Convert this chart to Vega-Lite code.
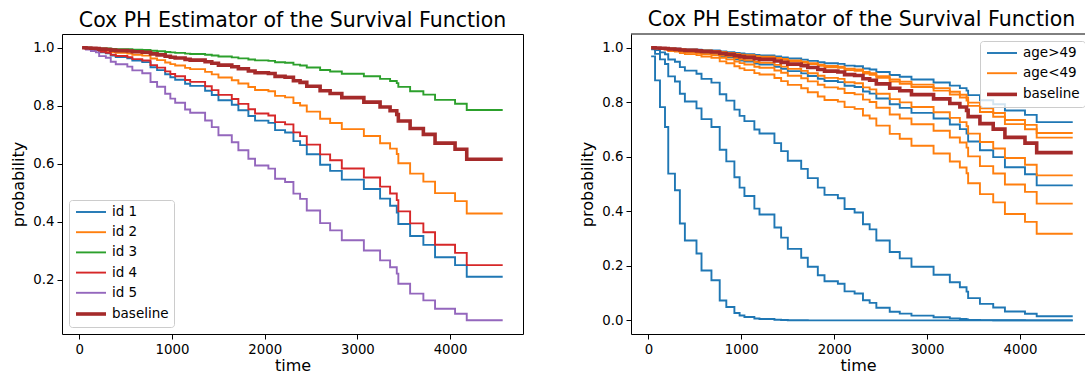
{
"$schema": "https://vega.github.io/schema/vega-lite/v6.json",
"background": "white",
"padding": {"left": 10, "top": 10, "right": 0, "bottom": 0},
"config": {
  "font": "DejaVu Sans",
  "view": {"stroke": "#000", "strokeWidth": 1},
  "axis": {"grid": false, "domain": false, "tickColor": "#000", "tickSize": 5, "tickWidth": 1, "labelColor": "#000", "labelFontSize": 13.3, "labelFont": "DejaVu Sans", "labelPadding": 3, "titleFont": "DejaVu Sans", "titleFontSize": 16, "titleFontWeight": "normal", "titleColor": "#000"},
  "axisX": {"titlePadding": 2},
  "axisY": {"titlePadding": 6},
  "title": {"fontSize": 20.5, "fontWeight": "normal", "color": "#000", "font": "DejaVu Sans", "anchor": "middle", "frame": "group", "baseline": "alphabetic", "offset": 3},
  "legend": {"symbolType": "M-2.5,0H2.5", "symbolSize": 144, "symbolOffset": 9, "symbolStrokeWidth": 1.9, "labelFontSize": 13.5, "labelFont": "DejaVu Sans", "labelColor": "#000", "strokeColor": "#cccccc", "fillColor": "rgba(255,255,255,0.8)", "cornerRadius": 3, "padding": 5, "rowPadding": 6.2, "labelOffset": 13, "offset": 7, "title": null}
},
"datasets": {
"left": [
{"t":30,"c":"id 1","p":0.9991},{"t":72,"c":"id 1","p":0.9966},{"t":125,"c":"id 1","p":0.9934},{"t":179,"c":"id 1","p":0.9908},{"t":214,"c":"id 1","p":0.9835},{"t":286,"c":"id 1","p":0.9804},{"t":339,"c":"id 1","p":0.9727},{"t":393,"c":"id 1","p":0.9677},{"t":518,"c":"id 1","p":0.9631},{"t":572,"c":"id 1","p":0.9556},{"t":679,"c":"id 1","p":0.95},{"t":768,"c":"id 1","p":0.9324},{"t":839,"c":"id 1","p":0.9226},{"t":926,"c":"id 1","p":0.9082},{"t":982,"c":"id 1","p":0.898},{"t":1034,"c":"id 1","p":0.8894},{"t":1141,"c":"id 1","p":0.8753},{"t":1196,"c":"id 1","p":0.8683},{"t":1357,"c":"id 1","p":0.8514},{"t":1429,"c":"id 1","p":0.8368},{"t":1501,"c":"id 1","p":0.8187},{"t":1645,"c":"id 1","p":0.8029},{"t":1716,"c":"id 1","p":0.7843},{"t":1824,"c":"id 1","p":0.7644},{"t":1896,"c":"id 1","p":0.7484},{"t":2040,"c":"id 1","p":0.7407},{"t":2112,"c":"id 1","p":0.7157},{"t":2220,"c":"id 1","p":0.7075},{"t":2310,"c":"id 1","p":0.6777},{"t":2382,"c":"id 1","p":0.6639},{"t":2454,"c":"id 1","p":0.6325},{"t":2598,"c":"id 1","p":0.5964},{"t":2706,"c":"id 1","p":0.5752},{"t":2832,"c":"id 1","p":0.5452},{"t":3070,"c":"id 1","p":0.5127},{"t":3245,"c":"id 1","p":0.4796},{"t":3353,"c":"id 1","p":0.4552},{"t":3425,"c":"id 1","p":0.4318},{"t":3442,"c":"id 1","p":0.3923},{"t":3569,"c":"id 1","p":0.3506},{"t":3712,"c":"id 1","p":0.3201},{"t":3838,"c":"id 1","p":0.2777},{"t":4054,"c":"id 1","p":0.2505},{"t":4180,"c":"id 1","p":0.2101},{"t":4568,"c":"id 1","p":0.2101},
{"t":30,"c":"id 2","p":0.9995},{"t":72,"c":"id 2","p":0.9981},{"t":125,"c":"id 2","p":0.9964},{"t":179,"c":"id 2","p":0.995},{"t":214,"c":"id 2","p":0.991},{"t":286,"c":"id 2","p":0.9893},{"t":339,"c":"id 2","p":0.9851},{"t":393,"c":"id 2","p":0.9823},{"t":518,"c":"id 2","p":0.9798},{"t":572,"c":"id 2","p":0.9756},{"t":679,"c":"id 2","p":0.9725},{"t":768,"c":"id 2","p":0.9627},{"t":839,"c":"id 2","p":0.9571},{"t":926,"c":"id 2","p":0.949},{"t":982,"c":"id 2","p":0.9432},{"t":1034,"c":"id 2","p":0.9383},{"t":1141,"c":"id 2","p":0.9301},{"t":1196,"c":"id 2","p":0.9261},{"t":1357,"c":"id 2","p":0.9163},{"t":1429,"c":"id 2","p":0.9077},{"t":1501,"c":"id 2","p":0.897},{"t":1645,"c":"id 2","p":0.8875},{"t":1716,"c":"id 2","p":0.8763},{"t":1824,"c":"id 2","p":0.8641},{"t":1896,"c":"id 2","p":0.8542},{"t":2040,"c":"id 2","p":0.8495},{"t":2112,"c":"id 2","p":0.8337},{"t":2220,"c":"id 2","p":0.8285},{"t":2310,"c":"id 2","p":0.8094},{"t":2382,"c":"id 2","p":0.8004},{"t":2454,"c":"id 2","p":0.7796},{"t":2598,"c":"id 2","p":0.7551},{"t":2706,"c":"id 2","p":0.7403},{"t":2832,"c":"id 2","p":0.7191},{"t":3070,"c":"id 2","p":0.6955},{"t":3245,"c":"id 2","p":0.6707},{"t":3353,"c":"id 2","p":0.6519},{"t":3425,"c":"id 2","p":0.6335},{"t":3442,"c":"id 2","p":0.6013},{"t":3569,"c":"id 2","p":0.5657},{"t":3712,"c":"id 2","p":0.5383},{"t":3838,"c":"id 2","p":0.4984},{"t":4054,"c":"id 2","p":0.4711},{"t":4180,"c":"id 2","p":0.4282},{"t":4568,"c":"id 2","p":0.4282},
{"t":30,"c":"id 3","p":0.9999},{"t":72,"c":"id 3","p":0.9995},{"t":125,"c":"id 3","p":0.999},{"t":179,"c":"id 3","p":0.9986},{"t":214,"c":"id 3","p":0.9974},{"t":286,"c":"id 3","p":0.9969},{"t":339,"c":"id 3","p":0.9957},{"t":393,"c":"id 3","p":0.9949},{"t":518,"c":"id 3","p":0.9942},{"t":572,"c":"id 3","p":0.993},{"t":679,"c":"id 3","p":0.9921},{"t":768,"c":"id 3","p":0.9892},{"t":839,"c":"id 3","p":0.9876},{"t":926,"c":"id 3","p":0.9852},{"t":982,"c":"id 3","p":0.9835},{"t":1034,"c":"id 3","p":0.982},{"t":1141,"c":"id 3","p":0.9795},{"t":1196,"c":"id 3","p":0.9783},{"t":1357,"c":"id 3","p":0.9754},{"t":1429,"c":"id 3","p":0.9727},{"t":1501,"c":"id 3","p":0.9694},{"t":1645,"c":"id 3","p":0.9665},{"t":1716,"c":"id 3","p":0.963},{"t":1824,"c":"id 3","p":0.9592},{"t":1896,"c":"id 3","p":0.956},{"t":2040,"c":"id 3","p":0.9545},{"t":2112,"c":"id 3","p":0.9494},{"t":2220,"c":"id 3","p":0.9477},{"t":2310,"c":"id 3","p":0.9414},{"t":2382,"c":"id 3","p":0.9384},{"t":2454,"c":"id 3","p":0.9314},{"t":2598,"c":"id 3","p":0.923},{"t":2706,"c":"id 3","p":0.9178},{"t":2832,"c":"id 3","p":0.9102},{"t":3070,"c":"id 3","p":0.9016},{"t":3245,"c":"id 3","p":0.8923},{"t":3353,"c":"id 3","p":0.885},{"t":3425,"c":"id 3","p":0.8778},{"t":3442,"c":"id 3","p":0.8649},{"t":3569,"c":"id 3","p":0.8499},{"t":3712,"c":"id 3","p":0.838},{"t":3838,"c":"id 3","p":0.8198},{"t":4054,"c":"id 3","p":0.8067},{"t":4180,"c":"id 3","p":0.7851},{"t":4568,"c":"id 3","p":0.7851},
{"t":30,"c":"id 4","p":0.9992},{"t":72,"c":"id 4","p":0.997},{"t":125,"c":"id 4","p":0.9942},{"t":179,"c":"id 4","p":0.9919},{"t":214,"c":"id 4","p":0.9854},{"t":286,"c":"id 4","p":0.9826},{"t":339,"c":"id 4","p":0.9757},{"t":393,"c":"id 4","p":0.9713},{"t":518,"c":"id 4","p":0.9671},{"t":572,"c":"id 4","p":0.9605},{"t":679,"c":"id 4","p":0.9555},{"t":768,"c":"id 4","p":0.9398},{"t":839,"c":"id 4","p":0.931},{"t":926,"c":"id 4","p":0.9181},{"t":982,"c":"id 4","p":0.9089},{"t":1034,"c":"id 4","p":0.9012},{"t":1141,"c":"id 4","p":0.8884},{"t":1196,"c":"id 4","p":0.8821},{"t":1357,"c":"id 4","p":0.8669},{"t":1429,"c":"id 4","p":0.8537},{"t":1501,"c":"id 4","p":0.8373},{"t":1645,"c":"id 4","p":0.8229},{"t":1716,"c":"id 4","p":0.806},{"t":1824,"c":"id 4","p":0.7878},{"t":1896,"c":"id 4","p":0.7731},{"t":2040,"c":"id 4","p":0.7661},{"t":2112,"c":"id 4","p":0.7431},{"t":2220,"c":"id 4","p":0.7355},{"t":2310,"c":"id 4","p":0.708},{"t":2382,"c":"id 4","p":0.6951},{"t":2454,"c":"id 4","p":0.6658},{"t":2598,"c":"id 4","p":0.632},{"t":2706,"c":"id 4","p":0.612},{"t":2832,"c":"id 4","p":0.5835},{"t":3070,"c":"id 4","p":0.5526},{"t":3245,"c":"id 4","p":0.5208},{"t":3353,"c":"id 4","p":0.4972},{"t":3425,"c":"id 4","p":0.4745},{"t":3442,"c":"id 4","p":0.4357},{"t":3569,"c":"id 4","p":0.3944},{"t":3712,"c":"id 4","p":0.3637},{"t":3838,"c":"id 4","p":0.3206},{"t":4054,"c":"id 4","p":0.2925},{"t":4180,"c":"id 4","p":0.2503},{"t":4568,"c":"id 4","p":0.2503},
{"t":30,"c":"id 5","p":0.9984},{"t":72,"c":"id 5","p":0.9938},{"t":125,"c":"id 5","p":0.9882},{"t":179,"c":"id 5","p":0.9836},{"t":214,"c":"id 5","p":0.9706},{"t":286,"c":"id 5","p":0.965},{"t":339,"c":"id 5","p":0.9514},{"t":393,"c":"id 5","p":0.9427},{"t":518,"c":"id 5","p":0.9346},{"t":572,"c":"id 5","p":0.9216},{"t":679,"c":"id 5","p":0.9119},{"t":768,"c":"id 5","p":0.8818},{"t":839,"c":"id 5","p":0.8652},{"t":926,"c":"id 5","p":0.8411},{"t":982,"c":"id 5","p":0.8242},{"t":1034,"c":"id 5","p":0.8101},{"t":1141,"c":"id 5","p":0.787},{"t":1196,"c":"id 5","p":0.7758},{"t":1357,"c":"id 5","p":0.7489},{"t":1429,"c":"id 5","p":0.726},{"t":1501,"c":"id 5","p":0.698},{"t":1645,"c":"id 5","p":0.6739},{"t":1716,"c":"id 5","p":0.6461},{"t":1824,"c":"id 5","p":0.617},{"t":1896,"c":"id 5","p":0.594},{"t":2040,"c":"id 5","p":0.5831},{"t":2112,"c":"id 5","p":0.5482},{"t":2220,"c":"id 5","p":0.5369},{"t":2310,"c":"id 5","p":0.4969},{"t":2382,"c":"id 5","p":0.4789},{"t":2454,"c":"id 5","p":0.4389},{"t":2598,"c":"id 5","p":0.395},{"t":2706,"c":"id 5","p":0.37},{"t":2832,"c":"id 5","p":0.3361},{"t":3070,"c":"id 5","p":0.301},{"t":3245,"c":"id 5","p":0.2669},{"t":3353,"c":"id 5","p":0.243},{"t":3425,"c":"id 5","p":0.2211},{"t":3442,"c":"id 5","p":0.186},{"t":3569,"c":"id 5","p":0.152},{"t":3712,"c":"id 5","p":0.129},{"t":3838,"c":"id 5","p":0.1},{"t":4054,"c":"id 5","p":0.083},{"t":4180,"c":"id 5","p":0.0606},{"t":4568,"c":"id 5","p":0.0606},
{"t":30,"c":"baseline","p":0.9997},{"t":72,"c":"baseline","p":0.9989},{"t":125,"c":"baseline","p":0.998},{"t":179,"c":"baseline","p":0.9971},{"t":214,"c":"baseline","p":0.9948},{"t":286,"c":"baseline","p":0.9938},{"t":339,"c":"baseline","p":0.9914},{"t":393,"c":"baseline","p":0.9898},{"t":518,"c":"baseline","p":0.9883},{"t":572,"c":"baseline","p":0.9859},{"t":679,"c":"baseline","p":0.9841},{"t":768,"c":"baseline","p":0.9784},{"t":839,"c":"baseline","p":0.9752},{"t":926,"c":"baseline","p":0.9704},{"t":982,"c":"baseline","p":0.9671},{"t":1034,"c":"baseline","p":0.9642},{"t":1141,"c":"baseline","p":0.9594},{"t":1196,"c":"baseline","p":0.957},{"t":1357,"c":"baseline","p":0.9511},{"t":1429,"c":"baseline","p":0.946},{"t":1501,"c":"baseline","p":0.9396},{"t":1645,"c":"baseline","p":0.9339},{"t":1716,"c":"baseline","p":0.9271},{"t":1824,"c":"baseline","p":0.9197},{"t":1896,"c":"baseline","p":0.9137},{"t":2040,"c":"baseline","p":0.9107},{"t":2112,"c":"baseline","p":0.901},{"t":2220,"c":"baseline","p":0.8978},{"t":2310,"c":"baseline","p":0.8859},{"t":2382,"c":"baseline","p":0.8802},{"t":2454,"c":"baseline","p":0.867},{"t":2598,"c":"baseline","p":0.8513},{"t":2706,"c":"baseline","p":0.8417},{"t":2832,"c":"baseline","p":0.8278},{"t":3070,"c":"baseline","p":0.8121},{"t":3245,"c":"baseline","p":0.7954},{"t":3353,"c":"baseline","p":0.7825},{"t":3425,"c":"baseline","p":0.7698},{"t":3442,"c":"baseline","p":0.7471},{"t":3569,"c":"baseline","p":0.7214},{"t":3712,"c":"baseline","p":0.7012},{"t":3838,"c":"baseline","p":0.671},{"t":4054,"c":"baseline","p":0.6497},{"t":4180,"c":"baseline","p":0.6151},{"t":4568,"c":"baseline","p":0.6151}
],
"right": [
{"t":30,"c":"b1","g":"age>49","p":0.968},{"t":72,"c":"b1","g":"age>49","p":0.88},{"t":125,"c":"b1","g":"age>49","p":0.782},{"t":179,"c":"b1","g":"age>49","p":0.709},{"t":214,"c":"b1","g":"age>49","p":0.538},{"t":286,"c":"b1","g":"age>49","p":0.477},{"t":339,"c":"b1","g":"age>49","p":0.355},{"t":393,"c":"b1","g":"age>49","p":0.293},{"t":518,"c":"b1","g":"age>49","p":0.245},{"t":572,"c":"b1","g":"age>49","p":0.183},{"t":679,"c":"b1","g":"age>49","p":0.147},{"t":768,"c":"b1","g":"age>49","p":0.073},{"t":839,"c":"b1","g":"age>49","p":0.049},{"t":926,"c":"b1","g":"age>49","p":0.027},{"t":982,"c":"b1","g":"age>49","p":0.018},{"t":1034,"c":"b1","g":"age>49","p":0.0125},{"t":1141,"c":"b1","g":"age>49","p":0.0069},{"t":1196,"c":"b1","g":"age>49","p":0.0051},{"t":1357,"c":"b1","g":"age>49","p":0.0025},{"t":1429,"c":"b1","g":"age>49","p":0.0013},{"t":1501,"c":"b1","g":"age>49","p":0.0006},{"t":1645,"c":"b1","g":"age>49","p":0.0003},{"t":1716,"c":"b1","g":"age>49","p":0.0001},{"t":1824,"c":"b1","g":"age>49","p":0},{"t":1896,"c":"b1","g":"age>49","p":0},{"t":2040,"c":"b1","g":"age>49","p":0},{"t":2112,"c":"b1","g":"age>49","p":0},{"t":2220,"c":"b1","g":"age>49","p":0},{"t":2310,"c":"b1","g":"age>49","p":0},{"t":2382,"c":"b1","g":"age>49","p":0},{"t":2454,"c":"b1","g":"age>49","p":0},{"t":2598,"c":"b1","g":"age>49","p":0},{"t":2706,"c":"b1","g":"age>49","p":0},{"t":2832,"c":"b1","g":"age>49","p":0},{"t":3070,"c":"b1","g":"age>49","p":0},{"t":3245,"c":"b1","g":"age>49","p":0},{"t":3353,"c":"b1","g":"age>49","p":0},{"t":3425,"c":"b1","g":"age>49","p":0},{"t":3442,"c":"b1","g":"age>49","p":0},{"t":3569,"c":"b1","g":"age>49","p":0},{"t":3712,"c":"b1","g":"age>49","p":0},{"t":3838,"c":"b1","g":"age>49","p":0},{"t":4054,"c":"b1","g":"age>49","p":0},{"t":4180,"c":"b1","g":"age>49","p":0},{"t":4568,"c":"b1","g":"age>49","p":0},
{"t":30,"c":"b2","g":"age>49","p":0.9942},{"t":72,"c":"b2","g":"age>49","p":0.9773},{"t":125,"c":"b2","g":"age>49","p":0.9569},{"t":179,"c":"b2","g":"age>49","p":0.9402},{"t":214,"c":"b2","g":"age>49","p":0.8948},{"t":286,"c":"b2","g":"age>49","p":0.8758},{"t":339,"c":"b2","g":"age>49","p":0.8307},{"t":393,"c":"b2","g":"age>49","p":0.8026},{"t":518,"c":"b2","g":"age>49","p":0.7773},{"t":572,"c":"b2","g":"age>49","p":0.7377},{"t":679,"c":"b2","g":"age>49","p":0.7092},{"t":768,"c":"b2","g":"age>49","p":0.6258},{"t":839,"c":"b2","g":"age>49","p":0.5829},{"t":926,"c":"b2","g":"age>49","p":0.5247},{"t":982,"c":"b2","g":"age>49","p":0.4866},{"t":1034,"c":"b2","g":"age>49","p":0.4562},{"t":1141,"c":"b2","g":"age>49","p":0.4097},{"t":1196,"c":"b2","g":"age>49","p":0.3883},{"t":1357,"c":"b2","g":"age>49","p":0.3405},{"t":1429,"c":"b2","g":"age>49","p":0.3032},{"t":1501,"c":"b2","g":"age>49","p":0.262},{"t":1645,"c":"b2","g":"age>49","p":0.2298},{"t":1716,"c":"b2","g":"age>49","p":0.1964},{"t":1824,"c":"b2","g":"age>49","p":0.1653},{"t":1896,"c":"b2","g":"age>49","p":0.1435},{"t":2040,"c":"b2","g":"age>49","p":0.134},{"t":2112,"c":"b2","g":"age>49","p":0.1064},{"t":2220,"c":"b2","g":"age>49","p":0.0985},{"t":2310,"c":"b2","g":"age>49","p":0.0738},{"t":2382,"c":"b2","g":"age>49","p":0.0643},{"t":2454,"c":"b2","g":"age>49","p":0.0465},{"t":2598,"c":"b2","g":"age>49","p":0.0314},{"t":2706,"c":"b2","g":"age>49","p":0.0246},{"t":2832,"c":"b2","g":"age>49","p":0.0172},{"t":3070,"c":"b2","g":"age>49","p":0.0114},{"t":3245,"c":"b2","g":"age>49","p":0.0073},{"t":3353,"c":"b2","g":"age>49","p":0.0051},{"t":3425,"c":"b2","g":"age>49","p":0.0036},{"t":3442,"c":"b2","g":"age>49","p":0.0019},{"t":3569,"c":"b2","g":"age>49","p":0.0009},{"t":3712,"c":"b2","g":"age>49","p":0.0005},{"t":3838,"c":"b2","g":"age>49","p":0.0002},{"t":4054,"c":"b2","g":"age>49","p":0.0001},{"t":4180,"c":"b2","g":"age>49","p":0},{"t":4568,"c":"b2","g":"age>49","p":0},
{"t":30,"c":"b3","g":"age>49","p":0.9977},{"t":72,"c":"b3","g":"age>49","p":0.9908},{"t":125,"c":"b3","g":"age>49","p":0.9825},{"t":179,"c":"b3","g":"age>49","p":0.9756},{"t":214,"c":"b3","g":"age>49","p":0.9565},{"t":286,"c":"b3","g":"age>49","p":0.9483},{"t":339,"c":"b3","g":"age>49","p":0.9285},{"t":393,"c":"b3","g":"age>49","p":0.9158},{"t":518,"c":"b3","g":"age>49","p":0.9041},{"t":572,"c":"b3","g":"age>49","p":0.8854},{"t":679,"c":"b3","g":"age>49","p":0.8716},{"t":768,"c":"b3","g":"age>49","p":0.829},{"t":839,"c":"b3","g":"age>49","p":0.8058},{"t":926,"c":"b3","g":"age>49","p":0.7726},{"t":982,"c":"b3","g":"age>49","p":0.7497},{"t":1034,"c":"b3","g":"age>49","p":0.7306},{"t":1141,"c":"b3","g":"age>49","p":0.6998},{"t":1196,"c":"b3","g":"age>49","p":0.6849},{"t":1357,"c":"b3","g":"age>49","p":0.65},{"t":1429,"c":"b3","g":"age>49","p":0.6205},{"t":1501,"c":"b3","g":"age>49","p":0.5852},{"t":1645,"c":"b3","g":"age>49","p":0.5553},{"t":1716,"c":"b3","g":"age>49","p":0.5215},{"t":1824,"c":"b3","g":"age>49","p":0.4868},{"t":1896,"c":"b3","g":"age>49","p":0.46},{"t":2040,"c":"b3","g":"age>49","p":0.4475},{"t":2112,"c":"b3","g":"age>49","p":0.4081},{"t":2220,"c":"b3","g":"age>49","p":0.3957},{"t":2310,"c":"b3","g":"age>49","p":0.3526},{"t":2382,"c":"b3","g":"age>49","p":0.3338},{"t":2454,"c":"b3","g":"age>49","p":0.2931},{"t":2598,"c":"b3","g":"age>49","p":0.2504},{"t":2706,"c":"b3","g":"age>49","p":0.2272},{"t":2832,"c":"b3","g":"age>49","p":0.1968},{"t":3070,"c":"b3","g":"age>49","p":0.167},{"t":3245,"c":"b3","g":"age>49","p":0.1397},{"t":3353,"c":"b3","g":"age>49","p":0.1214},{"t":3425,"c":"b3","g":"age>49","p":0.1054},{"t":3442,"c":"b3","g":"age>49","p":0.0815},{"t":3569,"c":"b3","g":"age>49","p":0.0603},{"t":3712,"c":"b3","g":"age>49","p":0.0473},{"t":3838,"c":"b3","g":"age>49","p":0.0323},{"t":4054,"c":"b3","g":"age>49","p":0.0245},{"t":4180,"c":"b3","g":"age>49","p":0.0153},{"t":4568,"c":"b3","g":"age>49","p":0.0153},
{"t":30,"c":"b4","g":"age>49","p":0.9996},{"t":72,"c":"b4","g":"age>49","p":0.9985},{"t":125,"c":"b4","g":"age>49","p":0.997},{"t":179,"c":"b4","g":"age>49","p":0.9959},{"t":214,"c":"b4","g":"age>49","p":0.9925},{"t":286,"c":"b4","g":"age>49","p":0.9911},{"t":339,"c":"b4","g":"age>49","p":0.9876},{"t":393,"c":"b4","g":"age>49","p":0.9853},{"t":518,"c":"b4","g":"age>49","p":0.9832},{"t":572,"c":"b4","g":"age>49","p":0.9797},{"t":679,"c":"b4","g":"age>49","p":0.9771},{"t":768,"c":"b4","g":"age>49","p":0.969},{"t":839,"c":"b4","g":"age>49","p":0.9643},{"t":926,"c":"b4","g":"age>49","p":0.9575},{"t":982,"c":"b4","g":"age>49","p":0.9527},{"t":1034,"c":"b4","g":"age>49","p":0.9486},{"t":1141,"c":"b4","g":"age>49","p":0.9417},{"t":1196,"c":"b4","g":"age>49","p":0.9383},{"t":1357,"c":"b4","g":"age>49","p":0.9301},{"t":1429,"c":"b4","g":"age>49","p":0.9228},{"t":1501,"c":"b4","g":"age>49","p":0.9138},{"t":1645,"c":"b4","g":"age>49","p":0.9058},{"t":1716,"c":"b4","g":"age>49","p":0.8962},{"t":1824,"c":"b4","g":"age>49","p":0.8859},{"t":1896,"c":"b4","g":"age>49","p":0.8775},{"t":2040,"c":"b4","g":"age>49","p":0.8735},{"t":2112,"c":"b4","g":"age>49","p":0.86},{"t":2220,"c":"b4","g":"age>49","p":0.8556},{"t":2310,"c":"b4","g":"age>49","p":0.8391},{"t":2382,"c":"b4","g":"age>49","p":0.8314},{"t":2454,"c":"b4","g":"age>49","p":0.8134},{"t":2598,"c":"b4","g":"age>49","p":0.7922},{"t":2706,"c":"b4","g":"age>49","p":0.7793},{"t":2832,"c":"b4","g":"age>49","p":0.7607},{"t":3070,"c":"b4","g":"age>49","p":0.74},{"t":3245,"c":"b4","g":"age>49","p":0.7181},{"t":3353,"c":"b4","g":"age>49","p":0.7013},{"t":3425,"c":"b4","g":"age>49","p":0.6849},{"t":3442,"c":"b4","g":"age>49","p":0.6559},{"t":3569,"c":"b4","g":"age>49","p":0.6235},{"t":3712,"c":"b4","g":"age>49","p":0.5984},{"t":3838,"c":"b4","g":"age>49","p":0.5613},{"t":4054,"c":"b4","g":"age>49","p":0.5357},{"t":4180,"c":"b4","g":"age>49","p":0.495},{"t":4568,"c":"b4","g":"age>49","p":0.495},
{"t":30,"c":"b5","g":"age>49","p":0.9998},{"t":72,"c":"b5","g":"age>49","p":0.9993},{"t":125,"c":"b5","g":"age>49","p":0.9987},{"t":179,"c":"b5","g":"age>49","p":0.9981},{"t":214,"c":"b5","g":"age>49","p":0.9966},{"t":286,"c":"b5","g":"age>49","p":0.996},{"t":339,"c":"b5","g":"age>49","p":0.9944},{"t":393,"c":"b5","g":"age>49","p":0.9933},{"t":518,"c":"b5","g":"age>49","p":0.9923},{"t":572,"c":"b5","g":"age>49","p":0.9908},{"t":679,"c":"b5","g":"age>49","p":0.9896},{"t":768,"c":"b5","g":"age>49","p":0.9858},{"t":839,"c":"b5","g":"age>49","p":0.9837},{"t":926,"c":"b5","g":"age>49","p":0.9805},{"t":982,"c":"b5","g":"age>49","p":0.9783},{"t":1034,"c":"b5","g":"age>49","p":0.9763},{"t":1141,"c":"b5","g":"age>49","p":0.9731},{"t":1196,"c":"b5","g":"age>49","p":0.9716},{"t":1357,"c":"b5","g":"age>49","p":0.9677},{"t":1429,"c":"b5","g":"age>49","p":0.9642},{"t":1501,"c":"b5","g":"age>49","p":0.96},{"t":1645,"c":"b5","g":"age>49","p":0.9561},{"t":1716,"c":"b5","g":"age>49","p":0.9516},{"t":1824,"c":"b5","g":"age>49","p":0.9466},{"t":1896,"c":"b5","g":"age>49","p":0.9425},{"t":2040,"c":"b5","g":"age>49","p":0.9405},{"t":2112,"c":"b5","g":"age>49","p":0.9339},{"t":2220,"c":"b5","g":"age>49","p":0.9317},{"t":2310,"c":"b5","g":"age>49","p":0.9236},{"t":2382,"c":"b5","g":"age>49","p":0.9197},{"t":2454,"c":"b5","g":"age>49","p":0.9106},{"t":2598,"c":"b5","g":"age>49","p":0.8998},{"t":2706,"c":"b5","g":"age>49","p":0.8931},{"t":2832,"c":"b5","g":"age>49","p":0.8834},{"t":3070,"c":"b5","g":"age>49","p":0.8724},{"t":3245,"c":"b5","g":"age>49","p":0.8606},{"t":3353,"c":"b5","g":"age>49","p":0.8514},{"t":3425,"c":"b5","g":"age>49","p":0.8423},{"t":3442,"c":"b5","g":"age>49","p":0.826},{"t":3569,"c":"b5","g":"age>49","p":0.8072},{"t":3712,"c":"b5","g":"age>49","p":0.7923},{"t":3838,"c":"b5","g":"age>49","p":0.7697},{"t":4054,"c":"b5","g":"age>49","p":0.7536},{"t":4180,"c":"b5","g":"age>49","p":0.727},{"t":4568,"c":"b5","g":"age>49","p":0.727},
{"t":30,"c":"o1","g":"age<49","p":0.9998},{"t":72,"c":"o1","g":"age<49","p":0.9992},{"t":125,"c":"o1","g":"age<49","p":0.9984},{"t":179,"c":"o1","g":"age<49","p":0.9978},{"t":214,"c":"o1","g":"age<49","p":0.996},{"t":286,"c":"o1","g":"age<49","p":0.9953},{"t":339,"c":"o1","g":"age<49","p":0.9934},{"t":393,"c":"o1","g":"age<49","p":0.9921},{"t":518,"c":"o1","g":"age<49","p":0.991},{"t":572,"c":"o1","g":"age<49","p":0.9891},{"t":679,"c":"o1","g":"age<49","p":0.9877},{"t":768,"c":"o1","g":"age<49","p":0.9833},{"t":839,"c":"o1","g":"age<49","p":0.9808},{"t":926,"c":"o1","g":"age<49","p":0.9771},{"t":982,"c":"o1","g":"age<49","p":0.9745},{"t":1034,"c":"o1","g":"age<49","p":0.9722},{"t":1141,"c":"o1","g":"age<49","p":0.9685},{"t":1196,"c":"o1","g":"age<49","p":0.9666},{"t":1357,"c":"o1","g":"age<49","p":0.9621},{"t":1429,"c":"o1","g":"age<49","p":0.9581},{"t":1501,"c":"o1","g":"age<49","p":0.953},{"t":1645,"c":"o1","g":"age<49","p":0.9486},{"t":1716,"c":"o1","g":"age<49","p":0.9432},{"t":1824,"c":"o1","g":"age<49","p":0.9374},{"t":1896,"c":"o1","g":"age<49","p":0.9327},{"t":2040,"c":"o1","g":"age<49","p":0.9304},{"t":2112,"c":"o1","g":"age<49","p":0.9227},{"t":2220,"c":"o1","g":"age<49","p":0.9201},{"t":2310,"c":"o1","g":"age<49","p":0.9107},{"t":2382,"c":"o1","g":"age<49","p":0.9062},{"t":2454,"c":"o1","g":"age<49","p":0.8957},{"t":2598,"c":"o1","g":"age<49","p":0.8831},{"t":2706,"c":"o1","g":"age<49","p":0.8754},{"t":2832,"c":"o1","g":"age<49","p":0.8642},{"t":3070,"c":"o1","g":"age<49","p":0.8516},{"t":3245,"c":"o1","g":"age<49","p":0.838},{"t":3353,"c":"o1","g":"age<49","p":0.8275},{"t":3425,"c":"o1","g":"age<49","p":0.8171},{"t":3442,"c":"o1","g":"age<49","p":0.7985},{"t":3569,"c":"o1","g":"age<49","p":0.7772},{"t":3712,"c":"o1","g":"age<49","p":0.7604},{"t":3838,"c":"o1","g":"age<49","p":0.7348},{"t":4054,"c":"o1","g":"age<49","p":0.7168},{"t":4180,"c":"o1","g":"age<49","p":0.6872},{"t":4568,"c":"o1","g":"age<49","p":0.6872},
{"t":30,"c":"o2","g":"age<49","p":0.9998},{"t":72,"c":"o2","g":"age<49","p":0.9991},{"t":125,"c":"o2","g":"age<49","p":0.9983},{"t":179,"c":"o2","g":"age<49","p":0.9976},{"t":214,"c":"o2","g":"age<49","p":0.9957},{"t":286,"c":"o2","g":"age<49","p":0.9949},{"t":339,"c":"o2","g":"age<49","p":0.9929},{"t":393,"c":"o2","g":"age<49","p":0.9916},{"t":518,"c":"o2","g":"age<49","p":0.9904},{"t":572,"c":"o2","g":"age<49","p":0.9884},{"t":679,"c":"o2","g":"age<49","p":0.9869},{"t":768,"c":"o2","g":"age<49","p":0.9822},{"t":839,"c":"o2","g":"age<49","p":0.9795},{"t":926,"c":"o2","g":"age<49","p":0.9756},{"t":982,"c":"o2","g":"age<49","p":0.9728},{"t":1034,"c":"o2","g":"age<49","p":0.9704},{"t":1141,"c":"o2","g":"age<49","p":0.9664},{"t":1196,"c":"o2","g":"age<49","p":0.9644},{"t":1357,"c":"o2","g":"age<49","p":0.9596},{"t":1429,"c":"o2","g":"age<49","p":0.9553},{"t":1501,"c":"o2","g":"age<49","p":0.95},{"t":1645,"c":"o2","g":"age<49","p":0.9452},{"t":1716,"c":"o2","g":"age<49","p":0.9395},{"t":1824,"c":"o2","g":"age<49","p":0.9334},{"t":1896,"c":"o2","g":"age<49","p":0.9283},{"t":2040,"c":"o2","g":"age<49","p":0.9259},{"t":2112,"c":"o2","g":"age<49","p":0.9177},{"t":2220,"c":"o2","g":"age<49","p":0.915},{"t":2310,"c":"o2","g":"age<49","p":0.905},{"t":2382,"c":"o2","g":"age<49","p":0.9002},{"t":2454,"c":"o2","g":"age<49","p":0.8891},{"t":2598,"c":"o2","g":"age<49","p":0.8758},{"t":2706,"c":"o2","g":"age<49","p":0.8676},{"t":2832,"c":"o2","g":"age<49","p":0.8558},{"t":3070,"c":"o2","g":"age<49","p":0.8424},{"t":3245,"c":"o2","g":"age<49","p":0.8281},{"t":3353,"c":"o2","g":"age<49","p":0.8171},{"t":3425,"c":"o2","g":"age<49","p":0.8061},{"t":3442,"c":"o2","g":"age<49","p":0.7865},{"t":3569,"c":"o2","g":"age<49","p":0.7641},{"t":3712,"c":"o2","g":"age<49","p":0.7465},{"t":3838,"c":"o2","g":"age<49","p":0.7197},{"t":4054,"c":"o2","g":"age<49","p":0.7009},{"t":4180,"c":"o2","g":"age<49","p":0.67},{"t":4568,"c":"o2","g":"age<49","p":0.67},
{"t":30,"c":"o3","g":"age<49","p":0.9996},{"t":72,"c":"o3","g":"age<49","p":0.9986},{"t":125,"c":"o3","g":"age<49","p":0.9973},{"t":179,"c":"o3","g":"age<49","p":0.9963},{"t":214,"c":"o3","g":"age<49","p":0.9933},{"t":286,"c":"o3","g":"age<49","p":0.992},{"t":339,"c":"o3","g":"age<49","p":0.9888},{"t":393,"c":"o3","g":"age<49","p":0.9868},{"t":518,"c":"o3","g":"age<49","p":0.9849},{"t":572,"c":"o3","g":"age<49","p":0.9818},{"t":679,"c":"o3","g":"age<49","p":0.9794},{"t":768,"c":"o3","g":"age<49","p":0.9721},{"t":839,"c":"o3","g":"age<49","p":0.9679},{"t":926,"c":"o3","g":"age<49","p":0.9618},{"t":982,"c":"o3","g":"age<49","p":0.9574},{"t":1034,"c":"o3","g":"age<49","p":0.9537},{"t":1141,"c":"o3","g":"age<49","p":0.9475},{"t":1196,"c":"o3","g":"age<49","p":0.9444},{"t":1357,"c":"o3","g":"age<49","p":0.9369},{"t":1429,"c":"o3","g":"age<49","p":0.9304},{"t":1501,"c":"o3","g":"age<49","p":0.9222},{"t":1645,"c":"o3","g":"age<49","p":0.9149},{"t":1716,"c":"o3","g":"age<49","p":0.9063},{"t":1824,"c":"o3","g":"age<49","p":0.8969},{"t":1896,"c":"o3","g":"age<49","p":0.8892},{"t":2040,"c":"o3","g":"age<49","p":0.8856},{"t":2112,"c":"o3","g":"age<49","p":0.8733},{"t":2220,"c":"o3","g":"age<49","p":0.8692},{"t":2310,"c":"o3","g":"age<49","p":0.8542},{"t":2382,"c":"o3","g":"age<49","p":0.8471},{"t":2454,"c":"o3","g":"age<49","p":0.8307},{"t":2598,"c":"o3","g":"age<49","p":0.8112},{"t":2706,"c":"o3","g":"age<49","p":0.7993},{"t":2832,"c":"o3","g":"age<49","p":0.7822},{"t":3070,"c":"o3","g":"age<49","p":0.763},{"t":3245,"c":"o3","g":"age<49","p":0.7426},{"t":3353,"c":"o3","g":"age<49","p":0.727},{"t":3425,"c":"o3","g":"age<49","p":0.7117},{"t":3442,"c":"o3","g":"age<49","p":0.6846},{"t":3569,"c":"o3","g":"age<49","p":0.6541},{"t":3712,"c":"o3","g":"age<49","p":0.6304},{"t":3838,"c":"o3","g":"age<49","p":0.5952},{"t":4054,"c":"o3","g":"age<49","p":0.5708},{"t":4180,"c":"o3","g":"age<49","p":0.5317},{"t":4568,"c":"o3","g":"age<49","p":0.5317},
{"t":30,"c":"o4","g":"age<49","p":0.9995},{"t":72,"c":"o4","g":"age<49","p":0.9981},{"t":125,"c":"o4","g":"age<49","p":0.9964},{"t":179,"c":"o4","g":"age<49","p":0.995},{"t":214,"c":"o4","g":"age<49","p":0.991},{"t":286,"c":"o4","g":"age<49","p":0.9893},{"t":339,"c":"o4","g":"age<49","p":0.9851},{"t":393,"c":"o4","g":"age<49","p":0.9823},{"t":518,"c":"o4","g":"age<49","p":0.9798},{"t":572,"c":"o4","g":"age<49","p":0.9756},{"t":679,"c":"o4","g":"age<49","p":0.9725},{"t":768,"c":"o4","g":"age<49","p":0.9627},{"t":839,"c":"o4","g":"age<49","p":0.9571},{"t":926,"c":"o4","g":"age<49","p":0.949},{"t":982,"c":"o4","g":"age<49","p":0.9432},{"t":1034,"c":"o4","g":"age<49","p":0.9383},{"t":1141,"c":"o4","g":"age<49","p":0.9301},{"t":1196,"c":"o4","g":"age<49","p":0.9261},{"t":1357,"c":"o4","g":"age<49","p":0.9163},{"t":1429,"c":"o4","g":"age<49","p":0.9077},{"t":1501,"c":"o4","g":"age<49","p":0.897},{"t":1645,"c":"o4","g":"age<49","p":0.8875},{"t":1716,"c":"o4","g":"age<49","p":0.8763},{"t":1824,"c":"o4","g":"age<49","p":0.8641},{"t":1896,"c":"o4","g":"age<49","p":0.8542},{"t":2040,"c":"o4","g":"age<49","p":0.8495},{"t":2112,"c":"o4","g":"age<49","p":0.8337},{"t":2220,"c":"o4","g":"age<49","p":0.8285},{"t":2310,"c":"o4","g":"age<49","p":0.8094},{"t":2382,"c":"o4","g":"age<49","p":0.8004},{"t":2454,"c":"o4","g":"age<49","p":0.7796},{"t":2598,"c":"o4","g":"age<49","p":0.7551},{"t":2706,"c":"o4","g":"age<49","p":0.7403},{"t":2832,"c":"o4","g":"age<49","p":0.7191},{"t":3070,"c":"o4","g":"age<49","p":0.6955},{"t":3245,"c":"o4","g":"age<49","p":0.6707},{"t":3353,"c":"o4","g":"age<49","p":0.6519},{"t":3425,"c":"o4","g":"age<49","p":0.6335},{"t":3442,"c":"o4","g":"age<49","p":0.6013},{"t":3569,"c":"o4","g":"age<49","p":0.5657},{"t":3712,"c":"o4","g":"age<49","p":0.5383},{"t":3838,"c":"o4","g":"age<49","p":0.4984},{"t":4054,"c":"o4","g":"age<49","p":0.4711},{"t":4180,"c":"o4","g":"age<49","p":0.4282},{"t":4568,"c":"o4","g":"age<49","p":0.4282},
{"t":30,"c":"o5","g":"age<49","p":0.9994},{"t":72,"c":"o5","g":"age<49","p":0.9975},{"t":125,"c":"o5","g":"age<49","p":0.9952},{"t":179,"c":"o5","g":"age<49","p":0.9933},{"t":214,"c":"o5","g":"age<49","p":0.9879},{"t":286,"c":"o5","g":"age<49","p":0.9855},{"t":339,"c":"o5","g":"age<49","p":0.9798},{"t":393,"c":"o5","g":"age<49","p":0.9761},{"t":518,"c":"o5","g":"age<49","p":0.9727},{"t":572,"c":"o5","g":"age<49","p":0.9672},{"t":679,"c":"o5","g":"age<49","p":0.963},{"t":768,"c":"o5","g":"age<49","p":0.9498},{"t":839,"c":"o5","g":"age<49","p":0.9425},{"t":926,"c":"o5","g":"age<49","p":0.9317},{"t":982,"c":"o5","g":"age<49","p":0.924},{"t":1034,"c":"o5","g":"age<49","p":0.9175},{"t":1141,"c":"o5","g":"age<49","p":0.9067},{"t":1196,"c":"o5","g":"age<49","p":0.9014},{"t":1357,"c":"o5","g":"age<49","p":0.8885},{"t":1429,"c":"o5","g":"age<49","p":0.8772},{"t":1501,"c":"o5","g":"age<49","p":0.8633},{"t":1645,"c":"o5","g":"age<49","p":0.8509},{"t":1716,"c":"o5","g":"age<49","p":0.8364},{"t":1824,"c":"o5","g":"age<49","p":0.8208},{"t":1896,"c":"o5","g":"age<49","p":0.8081},{"t":2040,"c":"o5","g":"age<49","p":0.802},{"t":2112,"c":"o5","g":"age<49","p":0.782},{"t":2220,"c":"o5","g":"age<49","p":0.7754},{"t":2310,"c":"o5","g":"age<49","p":0.7512},{"t":2382,"c":"o5","g":"age<49","p":0.74},{"t":2454,"c":"o5","g":"age<49","p":0.7141},{"t":2598,"c":"o5","g":"age<49","p":0.6839},{"t":2706,"c":"o5","g":"age<49","p":0.6659},{"t":2832,"c":"o5","g":"age<49","p":0.6402},{"t":3070,"c":"o5","g":"age<49","p":0.6119},{"t":3245,"c":"o5","g":"age<49","p":0.5826},{"t":3353,"c":"o5","g":"age<49","p":0.5606},{"t":3425,"c":"o5","g":"age<49","p":0.5394},{"t":3442,"c":"o5","g":"age<49","p":0.5026},{"t":3569,"c":"o5","g":"age<49","p":0.4628},{"t":3712,"c":"o5","g":"age<49","p":0.4328},{"t":3838,"c":"o5","g":"age<49","p":0.3899},{"t":4054,"c":"o5","g":"age<49","p":0.3613},{"t":4180,"c":"o5","g":"age<49","p":0.3176},{"t":4568,"c":"o5","g":"age<49","p":0.3176},
{"t":30,"c":"base","g":"baseline","p":0.9997},{"t":72,"c":"base","g":"baseline","p":0.9989},{"t":125,"c":"base","g":"baseline","p":0.998},{"t":179,"c":"base","g":"baseline","p":0.9971},{"t":214,"c":"base","g":"baseline","p":0.9948},{"t":286,"c":"base","g":"baseline","p":0.9938},{"t":339,"c":"base","g":"baseline","p":0.9914},{"t":393,"c":"base","g":"baseline","p":0.9898},{"t":518,"c":"base","g":"baseline","p":0.9883},{"t":572,"c":"base","g":"baseline","p":0.9859},{"t":679,"c":"base","g":"baseline","p":0.9841},{"t":768,"c":"base","g":"baseline","p":0.9784},{"t":839,"c":"base","g":"baseline","p":0.9752},{"t":926,"c":"base","g":"baseline","p":0.9704},{"t":982,"c":"base","g":"baseline","p":0.9671},{"t":1034,"c":"base","g":"baseline","p":0.9642},{"t":1141,"c":"base","g":"baseline","p":0.9594},{"t":1196,"c":"base","g":"baseline","p":0.957},{"t":1357,"c":"base","g":"baseline","p":0.9511},{"t":1429,"c":"base","g":"baseline","p":0.946},{"t":1501,"c":"base","g":"baseline","p":0.9396},{"t":1645,"c":"base","g":"baseline","p":0.9339},{"t":1716,"c":"base","g":"baseline","p":0.9271},{"t":1824,"c":"base","g":"baseline","p":0.9197},{"t":1896,"c":"base","g":"baseline","p":0.9137},{"t":2040,"c":"base","g":"baseline","p":0.9107},{"t":2112,"c":"base","g":"baseline","p":0.901},{"t":2220,"c":"base","g":"baseline","p":0.8978},{"t":2310,"c":"base","g":"baseline","p":0.8859},{"t":2382,"c":"base","g":"baseline","p":0.8802},{"t":2454,"c":"base","g":"baseline","p":0.867},{"t":2598,"c":"base","g":"baseline","p":0.8513},{"t":2706,"c":"base","g":"baseline","p":0.8417},{"t":2832,"c":"base","g":"baseline","p":0.8278},{"t":3070,"c":"base","g":"baseline","p":0.8121},{"t":3245,"c":"base","g":"baseline","p":0.7954},{"t":3353,"c":"base","g":"baseline","p":0.7825},{"t":3425,"c":"base","g":"baseline","p":0.7698},{"t":3442,"c":"base","g":"baseline","p":0.7471},{"t":3569,"c":"base","g":"baseline","p":0.7214},{"t":3712,"c":"base","g":"baseline","p":0.7012},{"t":3838,"c":"base","g":"baseline","p":0.671},{"t":4054,"c":"base","g":"baseline","p":0.6497},{"t":4180,"c":"base","g":"baseline","p":0.6151},{"t":4568,"c":"base","g":"baseline","p":0.6151}
]
},
"spacing": 55,
"resolve": {"scale": {"color": "independent", "strokeWidth": "independent", "x": "independent", "y": "independent"}, "legend": {"color": "independent", "strokeWidth": "independent"}},
"hconcat": [
{
  "width": 461, "height": 300,
  "title": {"text": "Cox PH Estimator of the Survival Function"},
  "data": {"name": "left"},
  "mark": {"type": "line", "interpolate": "step-after"},
  "encoding": {
    "x": {"field": "t", "type": "quantitative", "scale": {"domain": [-187, 4787], "nice": false, "zero": false}, "axis": {"title": "time", "values": [0, 1000, 2000, 3000, 4000], "format": "d"}},
    "y": {"field": "p", "type": "quantitative", "scale": {"domain": [0.013, 1.047], "nice": false, "zero": false}, "axis": {"title": "probability", "values": [0.2, 0.4, 0.6, 0.8, 1.0], "format": ".1f"}},
    "color": {"field": "c", "type": "nominal", "sort": null, "scale": {"domain": ["id 1", "id 2", "id 3", "id 4", "id 5", "baseline"], "range": ["#1f77b4", "#ff7f0e", "#2ca02c", "#d62728", "#9467bd", "#a52a2a"]}, "legend": {"orient": "bottom-left"}},
    "strokeWidth": {"field": "c", "type": "nominal", "sort": null, "scale": {"type": "ordinal", "domain": ["id 1", "id 2", "id 3", "id 4", "id 5", "baseline"], "range": [1.9, 1.9, 1.9, 1.9, 1.9, 3.6]}, "legend": {"orient": "bottom-left"}}
  }
},
{
  "width": 454, "height": 300,
  "title": {"text": "Cox PH Estimator of the Survival Function", "dx": 3.5},
  "view": {"stroke": null},
  "layer": [
    {
      "data": {"name": "right"},
      "mark": {"type": "line", "interpolate": "step-after"},
      "encoding": {
        "x": {"field": "t", "type": "quantitative", "scale": {"domain": [-187, 4700], "nice": false, "zero": false}, "axis": {"title": "time", "values": [0, 1000, 2000, 3000, 4000], "format": "d", "domain": true, "domainColor": "#000", "domainWidth": 1}},
        "y": {"field": "p", "type": "quantitative", "scale": {"domain": [-0.05, 1.05], "nice": false, "zero": false}, "axis": {"title": "probability", "values": [0, 0.2, 0.4, 0.6, 0.8, 1.0], "format": ".1f", "domain": true, "domainColor": "#000", "domainWidth": 1}},
        "color": {"field": "g", "type": "nominal", "sort": null, "scale": {"domain": ["age>49", "age<49", "baseline"], "range": ["#1f77b4", "#ff7f0e", "#a52a2a"]}, "legend": {"orient": "none", "legendX": 349, "legendY": 7}},
        "strokeWidth": {"field": "g", "type": "nominal", "scale": {"type": "ordinal", "domain": ["age>49", "age<49", "baseline"], "range": [1.9, 1.9, 3.6]}, "legend": null},
        "detail": {"field": "c", "type": "nominal"}
      }
    },
    {
      "data": {"values": [{}]},
      "mark": {"type": "rule", "color": "#000", "strokeWidth": 1},
      "encoding": {"y": {"datum": 1.05}}
    }
  ]
}
]
}
